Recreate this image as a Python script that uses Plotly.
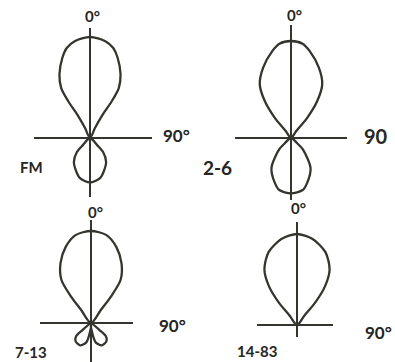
import numpy as np
import plotly.graph_objects as go

# radiation patterns: angle (deg, clockwise from 0° = up)
# and relative field strength (main lobe = 1)
fm_ang = [0, 9, 14.5, 19, 25.6, 30, 30.6, 28.5, 26.6, 0, -26.6, -28.5, -30.6, -30, -25.6, -19, -14.5, -9, 0]
fm_r = [1.0, 0.97, 0.92, 0.84, 0.70, 0.57, 0.42, 0.26, 0.11, 0, 0.11, 0.26, 0.42, 0.57, 0.70, 0.84, 0.92, 0.97, 1.0]
fm_back_ang = [0, 135, 137, 146, 158, 166, 180, 194, 202, 214, 223, 225, 0]
fm_back_r = [0, 0.10, 0.19, 0.285, 0.36, 0.41, 0.44, 0.41, 0.36, 0.285, 0.19, 0.10, 0]

ch26_ang = [0, 7, 11.9, 21.6, 30.2, 35.3, 38.7, 37, 0, -37, -38.7, -35.3, -30.2, -21.6, -11.9, -7, 0]
ch26_r = [1.0, 0.98, 0.92, 0.78, 0.64, 0.47, 0.27, 0.09, 0, 0.09, 0.27, 0.47, 0.64, 0.78, 0.92, 0.98, 1.0]
ch26_back_ang = [0, 130, 134, 147, 160, 167.3, 180, 192.7, 200, 213, 226, 230, 0]
ch26_back_r = [0, 0.08, 0.17, 0.37, 0.49, 0.55, 0.57, 0.55, 0.49, 0.37, 0.17, 0.08, 0]

ch713_ang = [0, 10, 18.5, 27, 34.4, 37, 37, 0, -37, -37, -34.4, -27, -18.5, -10, 0]
ch713_r = [1.0, 0.97, 0.87, 0.73, 0.57, 0.36, 0.18, 0, 0.18, 0.36, 0.57, 0.73, 0.87, 0.97, 1.0]
ch713_petal_r_ang = [0, 172, 166, 154, 140, 132, 130, 0]
ch713_petal_l_ang = [0, 188, 194, 206, 220, 228, 230, 0]
ch713_petal_r = [0, 0.12, 0.22, 0.27, 0.26, 0.22, 0.12, 0]

uhf_ang = [0, 10.3, 21.3, 30.3, 35.8, 39, 38, 0, -38, -39, -35.8, -30.3, -21.3, -10.3, 0]
uhf_r = [1.0, 0.96, 0.86, 0.71, 0.53, 0.32, 0.13, 0, 0.13, 0.32, 0.53, 0.71, 0.86, 0.96, 1.0]

W, H = 395, 362
ink = "#35352f"

# panel layout in pixels: centre, px per unit, crosshair extent (left, right, top, bottom)
panels = [
    dict(c=(90, 138), s=101, box=(34, 152, 28, 197),
         curves=[(fm_ang, fm_r), (fm_back_ang, fm_back_r)]),
    dict(c=(291, 138), s=97, box=(235, 347, 25, 200),
         curves=[(ch26_ang, ch26_r), (ch26_back_ang, ch26_back_r)]),
    dict(c=(91, 323), s=92, box=(40, 133, 220, 362),
         curves=[(ch713_ang, ch713_r), (ch713_petal_r_ang, ch713_petal_r),
                 (ch713_petal_l_ang, ch713_petal_r)]),
    dict(c=(297, 325), s=91, box=(257, 333, 222, 337),
         curves=[(uhf_ang, uhf_r)]),
]

fig = go.Figure()
for i, p in enumerate(panels, start=1):
    sfx = "" if i == 1 else str(i)
    cx, cy = p["c"]
    s = p["s"]
    x0, x1, y0, y1 = p["box"]
    for ang, r in p["curves"]:
        t = np.radians(ang)
        r = np.array(r)
        fig.add_trace(go.Scatter(
            x=r * np.sin(t), y=r * np.cos(t), mode="lines",
            line=dict(color=ink, width=2.3, shape="spline", smoothing=0.8),
            xaxis="x" + sfx, yaxis="y" + sfx, showlegend=False, hoverinfo="skip"))
    ax = dict(showgrid=False, showticklabels=False, ticks="", showline=False,
              zeroline=True, zerolinecolor=ink, zerolinewidth=1.6, fixedrange=True)
    fig.layout["xaxis" + sfx] = dict(ax, domain=[x0 / W, x1 / W],
                                     range=[(x0 - cx) / s, (x1 - cx) / s],
                                     anchor="y" + sfx)
    fig.layout["yaxis" + sfx] = dict(ax, domain=[1 - y1 / H, 1 - y0 / H],
                                     range=[(cy - y1) / s, (cy - y0) / s],
                                     anchor="x" + sfx)

labels = [
    ("0°", 92, 16, 15), ("90°", 176, 135, 17), ("FM", 31, 167, 15), ("0°", 95, 212, 15),
    ("0°", 294, 15, 15), ("90", 376, 136, 20), ("2-6", 217, 167, 19), ("0°", 298, 208, 15),
    ("90°", 172, 325, 17), ("7-13", 31, 352, 15),
    ("90°", 378, 332, 17), ("14-83", 257, 351, 15),
]
for txt, x, y, size in labels:
    fig.add_annotation(text=txt, x=x / W, y=1 - y / H, xref="paper", yref="paper",
                       showarrow=False, xanchor="center", yanchor="middle",
                       font=dict(family="Lato", size=size, color="#262622", weight="bold"))

fig.update_layout(width=W, height=H, margin=dict(l=0, r=0, t=0, b=0),
                  paper_bgcolor="white", plot_bgcolor="rgba(0,0,0,0)")
fig.write_html("out.html", config={"displayModeBar": False},
               post_script="document.body.style.margin='0';document.body.style.overflow='hidden';")
